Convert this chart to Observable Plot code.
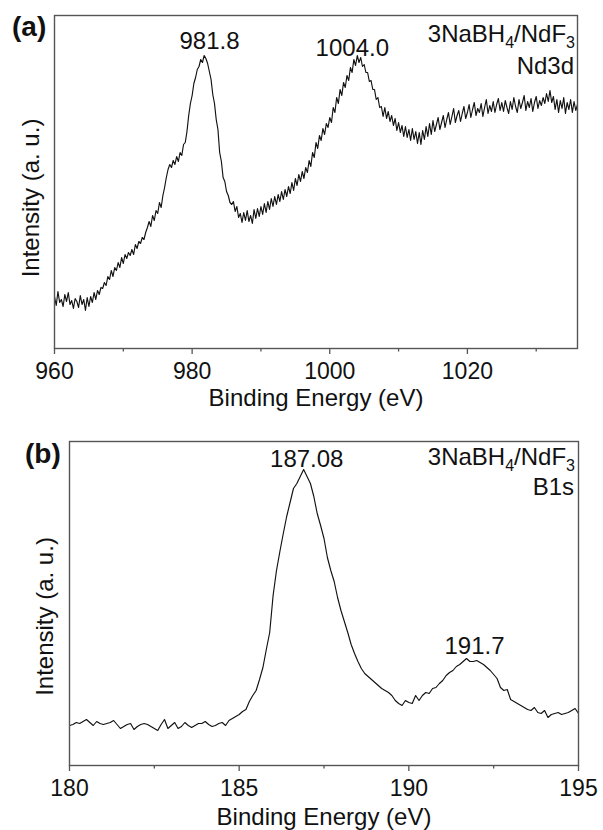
<!DOCTYPE html>
<html><head><meta charset="utf-8">
<script src="https://cdn.jsdelivr.net/npm/d3@7"></script>
<script src="https://cdn.jsdelivr.net/npm/@observablehq/plot@0.6"></script>
<style>
html,body{margin:0;padding:0;background:#fff;overflow:hidden;}
#chart{width:603px;height:830px;}
#chart svg{display:block;}
</style>
</head><body><div id="chart"></div>
<script>
// ---------- Panel (a): Nd3d ----------
const nd3dStart = 960, nd3dStep = 0.25;
const nd3dIntensity = [
  52,43,57,46, 49,42,54,47, 56,44,48,40, 50,47,41,53, 44,49,38,51,   // 960-964
  42,52,46,56, 49,58,54,61, 60,66,63,72, 69,78,72,81, 78,86,81,91,   // 965-969
  85,94,90,96, 93,99,94,104, 100,107,105,111, 109,116,121,127, 122,133,128,138, // 970-974
  135,146,141,153, 161,171,179,184, 181,188,184,192, 187,196,193,204, 206,217,233,245, // 975-979
  253,265,271,279, 282,289,286,293, 290,285,277,269, 254,245,229,219, 196,187,171,167, // 980-984
  157,153,146,144, 147,137,142,131, 135,126,136,128, 138,127,133,125, 139,130,140,132, // 985-989
  142,134,145,136, 147,139,150,142, 152,144,154,147, 157,149,159,152, 162,155,166,158, // 990-994
  170,163,174,167, 177,170,181,176, 188,182,196,191, 206,200,213,208, 220,214,225,221, // 995-999
  231,226,241,236, 251,245,259,253, 266,261,273,268, 281,276,289,283, 293,286,291,282, // 1000-1004
  284,276,276,267, 268,259,259,249, 251,241,242,232, 241,230,237,227, 233,223,230,218, // 1005-1009
  226,216,223,212, 222,211,219,208, 220,209,217,205, 216,204,218,209, 222,212,225,214, // 1010-1014
  228,217,224,231, 219,226,233,221, 229,236,224,232, 240,226,233,238, 227,235,242,230, // 1015-1019
  236,244,231,239, 246,233,240,236, 245,232,241,249, 235,243,237,247, 236,244,250,238, // 1020-1024
  246,237,248,241, 235,247,239,251, 242,236,249,240, 246,253,238,247, 241,250,237,246, // 1025-1029
  252,240,248,243, 251,245,255,247, 258,246,252,239, 249,236,248,240, 251,235,246,239, // 1030-1034
  249,236,247,238, 244                                                   // 1035-1036
];
const nd3dDomain = [960, 1036];
const nd3dMajorTicks = [960, 980, 1000, 1020];
const nd3dMinorTicks = [970, 990, 1010, 1030];
const nd3dPeaks = ["981.8", "1004.0"];

// ---------- Panel (b): B1s ----------
const b1sStart = 180, b1sStep = 0.1;
const b1sIntensity = [
  40,41,43,42,44,46,43,40,44,42,          // 180
  41,42,43,45,41,37,39,41,42,36,          // 181
  39,41,42,41,39,37,35,41,46,37,          // 182
  40,43,37,39,43,40,38,40,42,42,          // 183
  44,41,39,40,42,43,40,45,47,49,          // 184
  51,54,56,64,70,75,86,98,116,133,        // 185
  170,195,214,232,249,263,277,282,289,296,// 186
  289,282,269,252,240,227,208,195,184,168,// 187
  155,144,133,121,112,104,97,92,89,86,    // 188
  83,80,77,75,73,70,65,62,60,65,          // 189
  63,62,70,65,70,73,72,77,78,82,          // 190
  85,90,93,95,99,101,104,107,104,104,     // 191
  105,103,101,98,95,91,87,78,75,76,       // 192
  66,64,62,60,58,56,55,58,53,52,          // 193
  55,48,51,52,53,51,52,53,55,57,          // 194
  52                                      // 195
];
const b1sDomain = [180, 195];
const b1sMajorTicks = [180, 185, 190, 195];
const b1sMinorTicks = [182.5, 187.5, 192.5];
const b1sPeaks = ["187.08", "191.7"];

const xLabel = "Binding Energy (eV)";
const yLabel = "Intensity (a. u.)";

const nd3d = nd3dIntensity.map((v, i) => ({e: nd3dStart + i * nd3dStep, v}));
const b1s = b1sIntensity.map((v, i) => ({e: b1sStart + i * b1sStep, v}));

const FONT = '"Liberation Sans", Arial, Helvetica, sans-serif';
const FRAME = "#555";
const INK = "#111";

function panel({data, domain, yMax, major, minor, peaks, peakY, peakDx, margins, xLabelDy, yLabelDx, yLabelDy}) {
  return Plot.plot({
    width: 603, height: 415,
    ...margins,
    style: {fontFamily: FONT, fontSize: "23px", color: INK, background: "white"},
    x: {domain},
    y: {domain: [0, yMax], axis: null},
    marks: [
      Plot.line(data, {x: "e", y: "v", stroke: INK, strokeWidth: 1.15}),
      Plot.frame({stroke: FRAME, strokeWidth: 1.4}),
      Plot.axisX({ticks: minor, tickSize: 3.5, stroke: FRAME, strokeWidth: 1.3, tickFormat: () => "", label: null}),
      Plot.axisX({ticks: major, tickSize: 6, tickPadding: 8, stroke: FRAME, strokeWidth: 1.3, fill: INK, tickFormat: d => String(d), label: null}),
      ...peaks.map((p, i) => Plot.text([p], {x: d => +d, y: () => peakY[i], text: d => d, dx: peakDx[i], fontSize: 24, lineAnchor: "bottom", fill: INK})),
      Plot.text([xLabel], {frameAnchor: "bottom", textAnchor: "middle", dy: xLabelDy, lineAnchor: "bottom", fontSize: 24, fill: INK}),
      Plot.text([yLabel], {frameAnchor: "left", textAnchor: "middle", rotate: -90, dx: yLabelDx, dy: yLabelDy, lineAnchor: "bottom", fontSize: 24, fill: INK})
    ]
  });
}

const plotA = panel({
  data: nd3d, domain: nd3dDomain, yMax: 333, major: nd3dMajorTicks, minor: nd3dMinorTicks,
  peaks: nd3dPeaks, peakY: [300, 293], peakDx: [5, -5],
  margins: {marginLeft: 54, marginRight: 26, marginTop: 15, marginBottom: 67},
  xLabelDy: 57, yLabelDx: -16, yLabelDy: 16
});
const plotB = panel({
  data: b1s, domain: b1sDomain, yMax: 324, major: b1sMajorTicks, minor: b1sMinorTicks,
  peaks: b1sPeaks, peakY: [299, 112], peakDx: [-3, 8],
  margins: {marginLeft: 69, marginRight: 25, marginTop: 26, marginBottom: 65},
  xLabelDy: 59, yLabelDx: -17, yLabelDy: 13
});

function decorate(svg, tag, tagX, tagY, xRight, y1, y2, line2) {
  const s = d3.select(svg);
  s.append("text").attr("x", tagX).attr("y", tagY).attr("text-anchor", "start")
    .attr("font-family", FONT).attr("font-size", 28).attr("font-weight", "bold").attr("fill", INK).text(tag);
  const t = s.append("text").attr("x", xRight).attr("y", y1).attr("text-anchor", "end")
    .attr("font-family", FONT).attr("font-size", 24).attr("fill", INK);
  t.append("tspan").text("3NaBH");
  t.append("tspan").attr("font-size", 16).attr("dy", 6).text("4");
  t.append("tspan").attr("dy", -6).text("/NdF");
  t.append("tspan").attr("font-size", 16).attr("dy", 6).text("3");
  s.append("text").attr("x", xRight - 1).attr("y", y2).attr("text-anchor", "end")
    .attr("font-family", FONT).attr("font-size", 24).attr("fill", INK).text(line2);
}
decorate(plotA, "(a)", 12, 36, 575, 42, 74, "Nd3d");
decorate(plotB, "(b)", 25, 48, 575, 50, 80, "B1s");

const chart = document.getElementById("chart");
chart.appendChild(plotA);
chart.appendChild(plotB);
</script>
</body></html>
